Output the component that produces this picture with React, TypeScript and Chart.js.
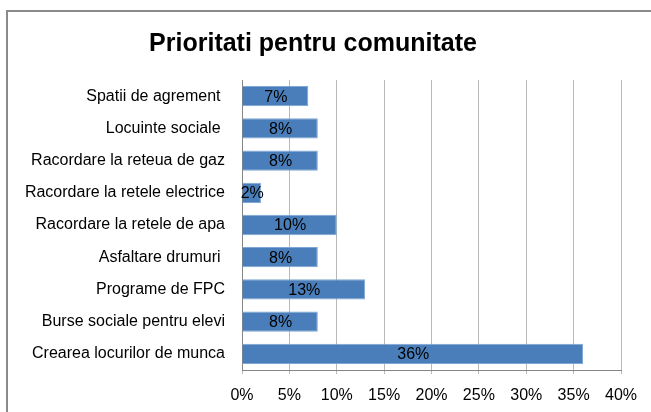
import React, { useEffect, useRef } from "react";
import { Chart, registerables } from "chart.js";

Chart.register(...registerables);

const categories = [
  "Spatii de agrement ",
  "Locuinte sociale ",
  "Racordare la reteua de gaz",
  "Racordare la retele electrice",
  "Racordare la retele de apa",
  "Asfaltare drumuri ",
  "Programe de FPC",
  "Burse sociale pentru elevi",
  "Crearea locurilor de munca",
];
const values = [7, 8, 8, 2, 10, 8, 13, 8, 36];
const xTicks = [0, 5, 10, 15, 20, 25, 30, 35, 40];
const titleText = "Prioritati pentru comunitate";

const FONT = "'Liberation Sans', Arial, sans-serif";

export default function App() {
  const ref = useRef<HTMLCanvasElement | null>(null);

  useEffect(() => {
    if (!ref.current) return;
    const titlePlugin = {
      id: "customTitle",
      afterDraw(chart: any) {
        const ctx = chart.ctx;
        ctx.save();
        ctx.font = `bold 25px ${FONT}`;
        ctx.fillStyle = "#000";
        ctx.textAlign = "center";
        ctx.textBaseline = "alphabetic";
        ctx.fillText(titleText, 313, 51);
        ctx.restore();
      },
    };
    const labelPlugin = {
      id: "barLabels",
      afterDatasetsDraw(chart: any) {
        const ctx = chart.ctx;
        const meta = chart.getDatasetMeta(0);
        ctx.save();
        ctx.font = `16px ${FONT}`;
        ctx.fillStyle = "#000";
        ctx.textAlign = "center";
        ctx.textBaseline = "middle";
        meta.data.forEach((bar: any, i: number) => {
          const v = values[i];
          const cx = (bar.x + bar.base) / 2;
          ctx.fillText(`${v}%`, cx + 0.5, bar.y + 1);
        });
        ctx.restore();
      },
    };
    const chart = new Chart(ref.current, {
      type: "bar",
      data: {
        labels: categories,
        datasets: [
          {
            data: values,
            backgroundColor: "#4a7ebb",
            borderColor: "#7fa7d6",
            borderWidth: 1,
            barPercentage: 0.63,
            categoryPercentage: 1,
          },
        ],
      },
      options: {
        indexAxis: "y",
        animation: false,
        responsive: false,
        layout: { padding: { top: 80, right: 30, left: 0, bottom: 0 } },
        plugins: {
          legend: { display: false },
          tooltip: { enabled: false },
          title: { display: false },
        },
        scales: {
          x: {
            min: 0,
            max: 40,
            afterBuildTicks(scale: any) {
              scale.ticks = xTicks.map((v) => ({ value: v }));
            },
            afterFit(scale: any) {
              scale.height = 42;
            },
            grid: {
              color: "#b8b8b8",
              lineWidth: 1,
              drawTicks: true,
              tickLength: 4,
            },
            border: { display: true, color: "#868686", width: 1 },
            ticks: {
              color: "#000",
              font: { family: FONT, size: 16 },
              padding: 12,
              maxRotation: 0,
              callback: (v: any) => `${v}%`,
            },
          },
          y: {
            afterFit(scale: any) {
              scale.width = 242;
            },
            grid: { display: false, drawTicks: false },
            border: { display: true, color: "#868686", width: 1 },
            ticks: {
              color: "#000",
              font: { family: FONT, size: 16 },
              padding: 17,
            },
          },
        },
      },
      plugins: [titlePlugin, labelPlugin],
    });
    return () => chart.destroy();
  }, []);

  return (
    <div style={{ position: "absolute", left: 0, top: 0, width: 651, height: 412, background: "#fff", overflow: "hidden" }}>
      <div
        style={{
          position: "absolute",
          left: 6,
          top: 10,
          width: 700,
          height: 500,
          borderLeft: "2px solid #8a8a8a",
          borderTop: "2px solid #8a8a8a",
          boxSizing: "border-box",
        }}
      />
      <canvas ref={ref} width={651} height={412} style={{ position: "absolute", left: 0, top: 0 }} />
    </div>
  );
}
